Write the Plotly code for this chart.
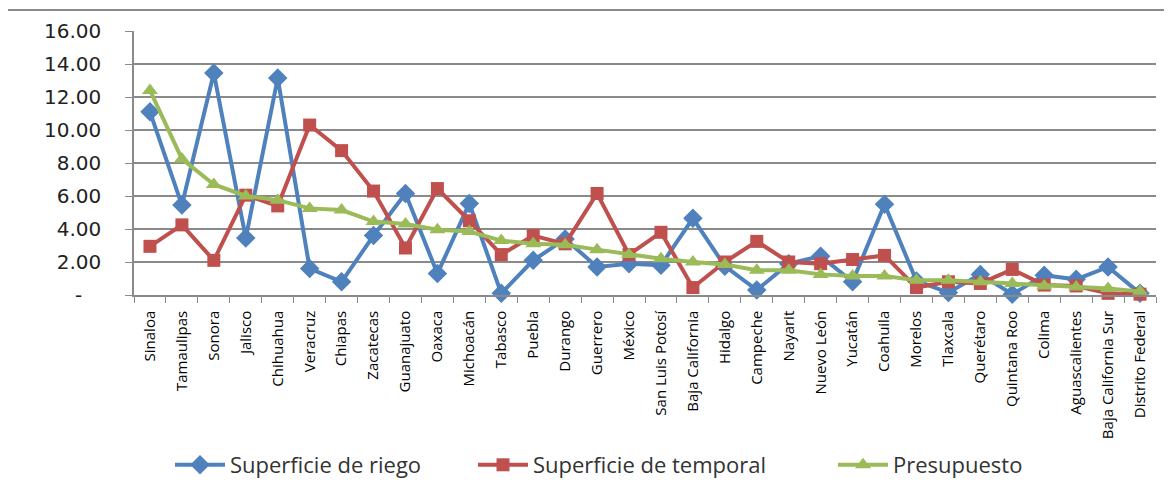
import plotly.graph_objects as go

estados = ["Sinaloa", "Tamaulipas", "Sonora", "Jalisco", "Chihuahua", "Veracruz", "Chiapas",
           "Zacatecas", "Guanajuato", "Oaxaca", "Michoacán", "Tabasco", "Puebla", "Durango",
           "Guerrero", "México", "San Luis Potosí", "Baja California", "Hidalgo", "Campeche",
           "Nayarit", "Nuevo León", "Yucatán", "Coahuila", "Morelos", "Tlaxcala", "Querétaro",
           "Quintana Roo", "Colima", "Aguascalientes", "Baja California Sur", "Distrito Federal"]

riego = [11.10, 5.45, 13.45, 3.45, 13.15, 1.60, 0.80, 3.60, 6.15, 1.30, 5.55, 0.10, 2.10, 3.40,
         1.70, 1.90, 1.80, 4.65, 1.75, 0.30, 1.90, 2.35, 0.80, 5.50, 0.85, 0.15, 1.25, 0.05,
         1.20, 0.95, 1.70, 0.10]
temporal = [2.95, 4.25, 2.10, 6.05, 5.40, 10.30, 8.75, 6.30, 2.85, 6.45, 4.50, 2.45, 3.60, 3.10,
            6.15, 2.45, 3.80, 0.45, 2.00, 3.25, 2.00, 1.90, 2.15, 2.40, 0.45, 0.80, 0.70, 1.55,
            0.60, 0.55, 0.10, 0.05]
presupuesto = [12.40, 8.25, 6.70, 6.00, 5.75, 5.25, 5.15, 4.45, 4.30, 3.95, 3.85, 3.30, 3.10, 3.05,
               2.75, 2.45, 2.20, 2.00, 1.85, 1.50, 1.50, 1.25, 1.15, 1.15, 0.90, 0.90, 0.80, 0.70,
               0.55, 0.48, 0.40, 0.22]

y_ticks = [0, 2, 4, 6, 8, 10, 12, 14, 16]
y_labels = ["-\u00a0\u00a0\u00a0", "2.00", "4.00", "6.00", "8.00", "10.00", "12.00", "14.00", "16.00"]

series = [
    ("Superficie de riego", riego, "#4F81BD", "diamond", 15, "legend", 175),
    ("Superficie de temporal", temporal, "#C0504D", "square", 13, "legend2", 478),
    ("Presupuesto", presupuesto, "#9BBB59", "triangle-up", 14, "legend3", 838),
]

OFF = 8  # page body margin
W, H = 1172 - OFF, 485 - OFF
L, R, T, B = 134 - OFF, 16, 31 - OFF, 190
pw, ph = W - L - R, H - T - B

fig = go.Figure()
legends = {}
for name, vals, color, sym, size, leg, lx in series:
    fig.add_trace(go.Scatter(
        x=estados, y=vals, name=name, mode="lines+markers", legend=leg,
        line=dict(color=color, width=4),
        marker=dict(symbol=sym, size=size, color=color, line=dict(width=0)),
        cliponaxis=False,
    ))
    legends[leg] = dict(orientation="h", x=(lx - 5 - OFF - L) / pw, xanchor="left",
                        y=(OFF + T + ph - 465) / ph, yanchor="middle",
                        font=dict(family="Open Sans", size=22, color="#333333"),
                        itemwidth=50, bgcolor="rgba(0,0,0,0)")

fig.update_layout(
    width=W, height=H,
    margin=dict(l=L, r=R, t=T, b=B, pad=0, autoexpand=False),
    paper_bgcolor="white", plot_bgcolor="white",
    showlegend=True,
    **legends,
    xaxis=dict(type="category", range=[-0.5, len(estados) - 0.5], automargin=False,
               showgrid=False, showline=True, linecolor="#8a8a8a", linewidth=1.5,
               ticks="outside", tickson="boundaries", ticklen=6, tickcolor="#8a8a8a",
               tickangle=-90, ticklabelstandoff=8,
               tickfont=dict(family="Open Sans", size=15, color="#000000")),
    yaxis=dict(range=[0, 16], tickvals=y_ticks, ticktext=y_labels, automargin=False,
               showgrid=True, gridcolor="#8a8a8a", gridwidth=1.5,
               showline=True, linecolor="#8a8a8a", linewidth=1.5,
               ticks="outside", ticklen=7, tickcolor="#8a8a8a",
               zeroline=False, ticklabelstandoff=20,
               tickfont=dict(family="DejaVu Sans", size=20, color="#222222")),
    shapes=[dict(type="rect", xref="paper", yref="paper",
                 x0=(7 - OFF - L) / pw, x1=1.2, y0=-2, y1=(OFF + T + ph - 10) / ph,
                 line=dict(color="#8a8a8a", width=2), layer="below")],
)

fig.write_html("out.html")
